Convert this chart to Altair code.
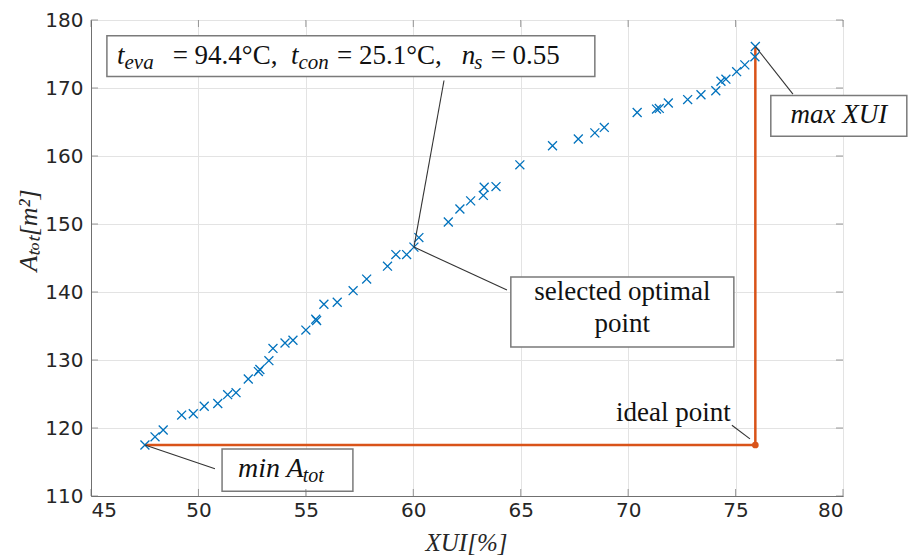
import altair as alt
import pandas as pd

# ---- data ----
XUI = [47.51, 47.98, 48.36, 49.22, 49.76, 50.27, 50.90, 51.36, 51.75, 52.32,
       52.79, 52.86, 53.28, 53.47, 54.03, 54.40, 55.00, 55.46, 55.50, 55.84,
       56.46, 57.20, 57.83, 58.80, 59.19, 59.69, 60.03, 60.26, 61.63, 62.17,
       62.67, 63.26, 63.30, 63.85, 64.96, 66.48, 67.68, 68.45, 68.89, 70.42,
       71.32, 71.45, 71.87, 72.77, 73.39, 74.08, 74.32, 74.55, 75.05, 75.43,
       75.90, 75.92]
ATOT = [117.5, 118.7, 119.7, 121.9, 122.1, 123.2, 123.6, 124.9, 125.2, 127.2,
        128.3, 128.6, 129.9, 131.7, 132.5, 132.9, 134.4, 136.0, 135.8, 138.2,
        138.5, 140.2, 141.9, 143.8, 145.5, 145.5, 146.6, 148.0, 150.3, 152.2,
        153.4, 154.2, 155.4, 155.5, 158.7, 161.5, 162.5, 163.4, 164.2, 166.4,
        166.9, 167.0, 167.8, 168.3, 169.0, 169.6, 171.0, 171.3, 172.4, 173.4,
        174.6, 176.1]
X_TICKS = [45, 50, 55, 60, 65, 70, 75, 80]
Y_TICKS = [110, 120, 130, 140, 150, 160, 170, 180]
SELECTED = (60.03, 146.6)

# annotation boxes (data coords)
BOX_X = [45.74, 64.54, 76.64, 51.10]
BOX_X2 = [68.45, 74.92, 82.97, 57.19]
BOX_Y = [177.7, 142.2, 168.9, 116.9]
BOX_Y2 = [171.7, 131.9, 162.9, 110.7]

# connector lines (data coords)
imin = ATOT.index(min(ATOT))
imax = XUI.index(max(XUI))
CON_X = [61.43, SELECTED[0], XUI[imax], XUI[imin], 74.83]
CON_Y = [171.1, SELECTED[1], ATOT[imax], ATOT[imin], 120.4]
CON_X2 = [SELECTED[0], 64.36, 77.67, 50.77, 75.67]
CON_Y2 = [SELECTED[1], 140.3, 169.1, 114.0, 118.4]

# annotation text pieces: text, x, y, size, style, align
TXT = ["t", "eva", "= 94.4°C,", "t", "con", "= 25.1°C,", "n", "s", "= 0.55",
       "selected optimal", "point", "ideal point", "max XUI", "min A", "tot"]
TXT_X = [46.21, 46.56, 48.80, 54.31, 54.66, 56.45, 62.26, 62.84, 63.60,
         69.73, 69.73, 74.78, 79.81, 51.84, 54.85]
TXT_Y = [173.6, 172.8, 173.6, 173.6, 172.8, 173.6, 173.6, 172.8, 173.6,
         138.8, 134.1, 121.0, 164.8, 112.8, 112.0]
TXT_SIZE = [27, 21, 27, 27, 21, 27, 27, 21, 27, 27, 27, 27, 27, 28, 20]
TXT_STYLE = ["italic", "italic", "normal", "italic", "italic", "normal", "italic",
             "italic", "normal", "normal", "normal", "normal", "italic", "italic", "italic"]
TXT_ALIGN = ["left"] * 9 + ["center", "center", "right", "center", "left", "left"]

scatter = pd.DataFrame({"x": XUI, "y": ATOT})
ideal_x, ideal_y = XUI[imax], ATOT[imin]
orange = pd.DataFrame({"x": [XUI[imin], ideal_x, ideal_x],
                       "y": [ATOT[imin], ideal_y, ATOT[imax]],
                       "o": [0, 1, 2]})
ideal = pd.DataFrame({"x": [ideal_x], "y": [ideal_y]})
boxes = pd.DataFrame({"x": BOX_X, "x2": BOX_X2, "y": BOX_Y, "y2": BOX_Y2})
cons = pd.DataFrame({"x": CON_X, "x2": CON_X2, "y": CON_Y, "y2": CON_Y2})
texts = pd.DataFrame({"t": TXT, "x": TXT_X, "y": TXT_Y, "s": TXT_SIZE,
                      "st": TXT_STYLE, "al": TXT_ALIGN})

GRID = "#e3e3e3"
AX = "#707070"
LAB = "#262626"

xaxis = alt.Axis(values=X_TICKS, grid=True, gridColor=GRID, gridWidth=1,
                 domainColor=AX, domainWidth=1, ticks=False,
                 labelFont="DejaVu Sans", labelFontSize=20, labelColor=LAB,
                 labelPadding=4, title="XUI[%]", titleFont="Liberation Serif",
                 titleFontStyle="italic", titleFontWeight="normal", titleFontSize=25,
                 titleColor=LAB, titleX=375, titleY=46, titleBaseline="middle",
                 titleAlign="center")
yaxis = alt.Axis(values=Y_TICKS, grid=True, gridColor=GRID, gridWidth=1,
                 domainColor=AX, domainWidth=1, ticks=False,
                 labelFont="DejaVu Sans", labelFontSize=20, labelColor=LAB,
                 labelPadding=8, title="Aₜₒₜ[m²]", titleFont="Liberation Serif",
                 titleFontStyle="italic", titleFontWeight="normal", titleFontSize=26,
                 titleColor=LAB, titleX=-63, titleY=210, titleAngle=270,
                 titleBaseline="middle", titleAlign="center")

X = alt.X("x:Q", scale=alt.Scale(domain=[45, 80], nice=False, zero=False), axis=xaxis)
Y = alt.Y("y:Q", scale=alt.Scale(domain=[110, 180], nice=False, zero=False), axis=yaxis)

# inward ticks
xt = pd.DataFrame({"x": X_TICKS})
yt = pd.DataFrame({"y": Y_TICKS})
tick_bottom = alt.Chart(xt).mark_tick(orient="vertical", size=7, thickness=1, color=AX,
                                      yOffset=-3.5).encode(x=X, y=alt.datum(110, type="quantitative"))
tick_top = alt.Chart(xt).mark_tick(orient="vertical", size=7, thickness=1, color=AX,
                                   yOffset=3.5).encode(x=X, y=alt.datum(180, type="quantitative"))
tick_left = alt.Chart(yt).mark_tick(orient="horizontal", size=7, thickness=1, color=AX,
                                    xOffset=3.5).encode(y=Y, x=alt.datum(45, type="quantitative"))
tick_right = alt.Chart(yt).mark_tick(orient="horizontal", size=7, thickness=1, color=AX,
                                     xOffset=-3.5).encode(y=Y, x=alt.datum(80, type="quantitative"))

orange_line = alt.Chart(orange).mark_line(color="#D95319", strokeWidth=2.5).encode(
    x=X, y=Y, order="o:Q")
pts = alt.Chart(scatter).mark_point(shape="M-1,-1L1,1M1,-1L-1,1", size=80, filled=False,
                                    color="#0072BD", strokeWidth=1.3, opacity=1).encode(x=X, y=Y)
ideal_pt = alt.Chart(ideal).mark_circle(size=45, color="#D95319", opacity=1).encode(x=X, y=Y)
con_lines = alt.Chart(cons).mark_rule(color="#333333", strokeWidth=1.1).encode(
    x=X, y=Y, x2="x2:Q", y2="y2:Q")
box_rects = alt.Chart(boxes).mark_rect(fill="white", stroke="#7a7a7a", strokeWidth=1.5).encode(
    x=X, y=Y, x2="x2:Q", y2="y2:Q")

text_layers = []
for i in range(len(TXT)):
    sub = texts.iloc[[i]]
    text_layers.append(
        alt.Chart(sub).mark_text(font="Liberation Serif", fontSize=TXT_SIZE[i],
                                 fontStyle=TXT_STYLE[i], align=TXT_ALIGN[i],
                                 baseline="alphabetic", color="#111111").encode(
            x=X, y=Y, text="t:N"))

chart = alt.layer(
    orange_line, pts, ideal_pt, con_lines, box_rects, *text_layers,
    tick_bottom, tick_top, tick_left, tick_right
).properties(
    width=752, height=476,
    autosize=alt.AutoSizeParams(type="none"),
    padding={"left": 91, "top": 20, "right": 70, "bottom": 63},
    background="white",
).configure_view(stroke=AX, strokeWidth=1)

chart.save("out.html", embed_options={"renderer": "svg", "actions": False})
